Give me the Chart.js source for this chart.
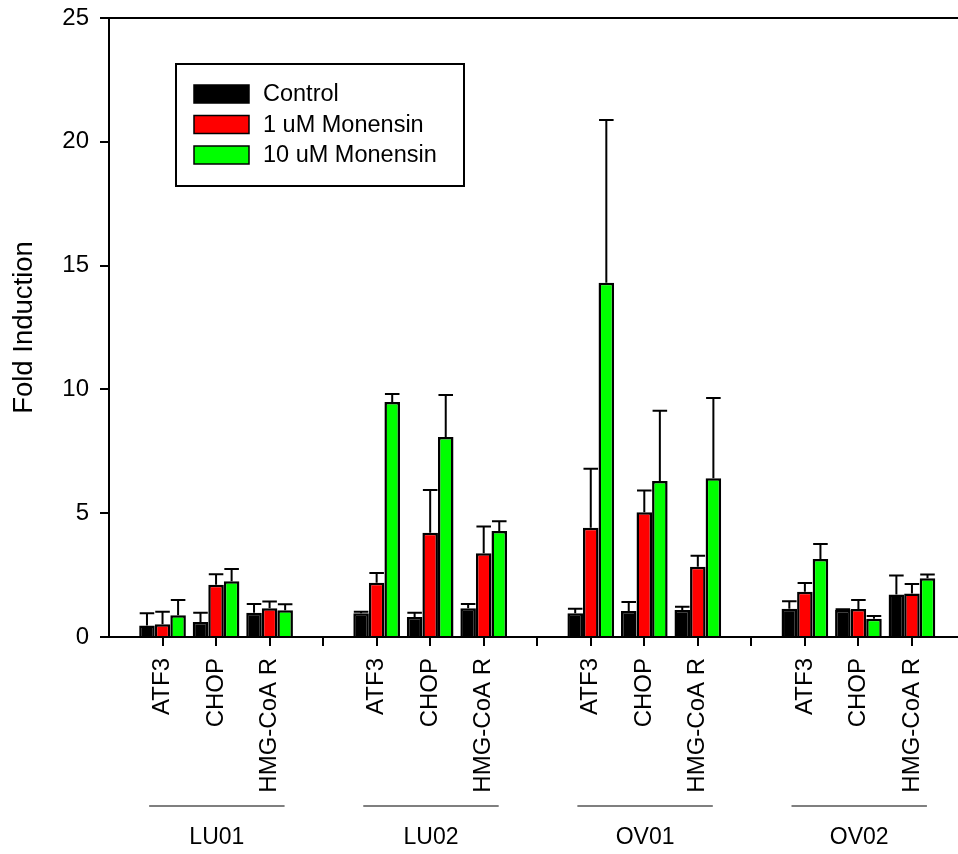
<!DOCTYPE html>
<html>
<head>
<meta charset="utf-8">
<script src="https://cdn.jsdelivr.net/npm/chart.js@4/dist/chart.umd.min.js"></script>
<style>
  html, body { margin: 0; padding: 0; background: #fff; overflow: hidden; }
  canvas { display: block; }
</style>
</head>
<body>
<canvas id="chart" width="1020" height="854"></canvas>
<script>
// Genes measured in each cell line
const genes = ['ATF3', 'CHOP', 'HMG-CoA R'];
const cellLines = ['LU01', 'LU02', 'OV01', 'OV02'];
const seriesNames = ['Control', '1 uM Monensin', '10 uM Monensin'];
const seriesColors = ['#000000', '#ff0000', '#00ff00'];

// Fold induction, ordered LU01 (ATF3, CHOP, HMG-CoA R), LU02, OV01, OV02
const control   = [0.46, 0.61, 0.98,  0.96, 0.81, 1.16,  0.96, 1.05, 1.09,  1.14, 1.09, 1.72];
const monensin1 = [0.51, 2.11, 1.16,  2.19, 4.21, 3.38,  4.41, 5.04, 2.84,  1.83, 1.13, 1.76];
const monensin10= [0.88, 2.25, 1.08,  9.49, 8.08, 4.28, 14.31, 6.30, 6.41,  3.15, 0.74, 2.37];

// Upper error (SD) for each bar, same ordering
const controlErr   = [0.50, 0.37, 0.35,  0.06, 0.17, 0.17,  0.18, 0.36, 0.13,  0.30, 0.03, 0.76];
const monensin1Err = [0.51, 0.42, 0.27,  0.39, 1.73, 1.08,  2.39, 0.88, 0.44,  0.35, 0.36, 0.38];
const monensin10Err= [0.61, 0.50, 0.24,  0.32, 1.69, 0.39,  6.57, 2.84, 3.24,  0.61, 0.11, 0.15];

const yTicks = [0, 5, 10, 15, 20, 25];

// Category slots: an empty slot before each cell line and two trailing slots
const slotLabels = [];
const slotIndex = []; // slot position of each measurement
cellLines.forEach(() => {
  slotLabels.push('');
  genes.forEach(gene => { slotIndex.push(slotLabels.length); slotLabels.push(gene); });
});
slotLabels.push('', '');

function toSlots(values) {
  const out = slotLabels.map(() => null);
  values.forEach((v, i) => { out[slotIndex[i]] = v; });
  return out;
}

const FONT = '"Liberation Sans", Arial, Helvetica, sans-serif';
Chart.defaults.font.family = FONT;
Chart.defaults.font.size = 24;
Chart.defaults.color = '#000';

const seriesValues = [control, monensin1, monensin10];
const seriesErrs = [controlErr, monensin1Err, monensin10Err];

const datasets = seriesNames.map((name, i) => ({
  label: name,
  data: toSlots(seriesValues[i]),
  errors: toSlots(seriesErrs[i]),
  backgroundColor: seriesColors[i],
  borderColor: '#000',
  borderWidth: 2.5,
  borderSkipped: 'start',
  barPercentage: 1.0,
  categoryPercentage: 0.872
}));

// Upper error bars with caps
const errorBars = {
  id: 'errorBars',
  afterDatasetsDraw(chart) {
    const ctx = chart.ctx;
    const y = chart.scales.y;
    ctx.save();
    ctx.strokeStyle = '#000';
    ctx.lineWidth = 2;
    chart.data.datasets.forEach((ds, di) => {
      const meta = chart.getDatasetMeta(di);
      meta.data.forEach((bar, i) => {
        const v = ds.data[i], e = ds.errors[i];
        if (v == null || e == null) return;
        const yTop = y.getPixelForValue(v + e);
        const yBar = y.getPixelForValue(v);
        const half = bar.width / 2 - 0.5;
        ctx.beginPath();
        ctx.moveTo(bar.x, yBar);
        ctx.lineTo(bar.x, yTop);
        ctx.moveTo(bar.x - half, yTop);
        ctx.lineTo(bar.x + half, yTop);
        ctx.stroke();
      });
    });
    ctx.restore();
  }
};

// Top frame line, cell-line brackets and names, boxed legend
const decorations = {
  id: 'decorations',
  afterDraw(chart) {
    const ctx = chart.ctx;
    const area = chart.chartArea;
    const x = chart.scales.x;
    ctx.save();
    // top frame
    ctx.strokeStyle = '#000';
    ctx.lineWidth = 2;
    ctx.beginPath();
    ctx.moveTo(area.left, area.top);
    ctx.lineTo(area.right, area.top);
    ctx.stroke();

    // cell-line group brackets
    const step = x.getPixelForValue(2) - x.getPixelForValue(1);
    ctx.font = '23px ' + FONT;
    ctx.textAlign = 'center';
    ctx.textBaseline = 'middle';
    cellLines.forEach((cl, g) => {
      const first = slotIndex[g * genes.length];
      const last = slotIndex[g * genes.length + genes.length - 1];
      const x0 = x.getPixelForValue(first) - 0.25 * step;
      const x1 = x.getPixelForValue(last) + 0.28 * step;
      ctx.strokeStyle = '#555';
      ctx.lineWidth = 1.5;
      ctx.beginPath();
      ctx.moveTo(x0, 806);
      ctx.lineTo(x1, 806);
      ctx.stroke();
      ctx.fillStyle = '#000';
      ctx.fillText(cl, (x0 + x1) / 2, 838);
    });

    // legend box
    const bx = 176, by = 64, bw = 288, bh = 122;
    ctx.strokeStyle = '#000';
    ctx.lineWidth = 2;
    ctx.strokeRect(bx, by, bw, bh);
    ctx.font = '23.5px ' + FONT;
    ctx.textAlign = 'left';
    chart.data.datasets.forEach((ds, i) => {
      const sy = 85 + i * 30.5;
      ctx.fillStyle = ds.backgroundColor;
      ctx.fillRect(194, sy, 55, 18);
      ctx.strokeStyle = '#000';
      ctx.lineWidth = 1.5;
      ctx.strokeRect(194, sy, 55, 18);
      ctx.fillStyle = '#000';
      ctx.fillText(ds.label, 263, sy + 10);
    });
    ctx.restore();
  }
};

new Chart(document.getElementById('chart'), {
  type: 'bar',
  data: { labels: slotLabels, datasets },
  options: {
    responsive: false,
    animation: false,
    devicePixelRatio: 1,
    layout: { padding: { top: 18, left: 0, right: 1, bottom: 0 } },
    plugins: { legend: { display: false }, tooltip: { enabled: false } },
    scales: {
      x: {
        offset: false,
        grid: {
          offset: false,
          drawOnChartArea: false,
          drawTicks: true,
          tickLength: 9,
          lineWidth: 2,
          color: ctx => (ctx.index === 0 ? 'rgba(0,0,0,0)' : '#000')
        },
        border: { display: true, color: '#000', width: 2 },
        ticks: {
          autoSkip: false,
          minRotation: 90,
          maxRotation: 90,
          padding: 12,
          color: '#000',
          font: { size: 24 }
        },
        afterFit(s) { s.height = 217; s.paddingLeft = 0; s.paddingRight = 0; }
      },
      y: {
        min: 0,
        max: 25,
        afterBuildTicks(s) { s.ticks = yTicks.map(v => ({ value: v })); },
        grid: {
          drawOnChartArea: false,
          drawTicks: true,
          tickLength: 9,
          lineWidth: 2,
          color: '#000'
        },
        border: { display: true, color: '#000', width: 2 },
        ticks: { padding: 11, color: '#000', font: { size: 24 } },
        title: {
          display: true,
          text: 'Fold Induction',
          color: '#000',
          font: { size: 27.5 },
          padding: { top: 8, bottom: 0 }
        },
        afterFit(s) { s.width = 109; s.paddingTop = 0; s.paddingBottom = 0; }
      }
    }
  },
  plugins: [errorBars, decorations]
});
</script>
</body>
</html>
